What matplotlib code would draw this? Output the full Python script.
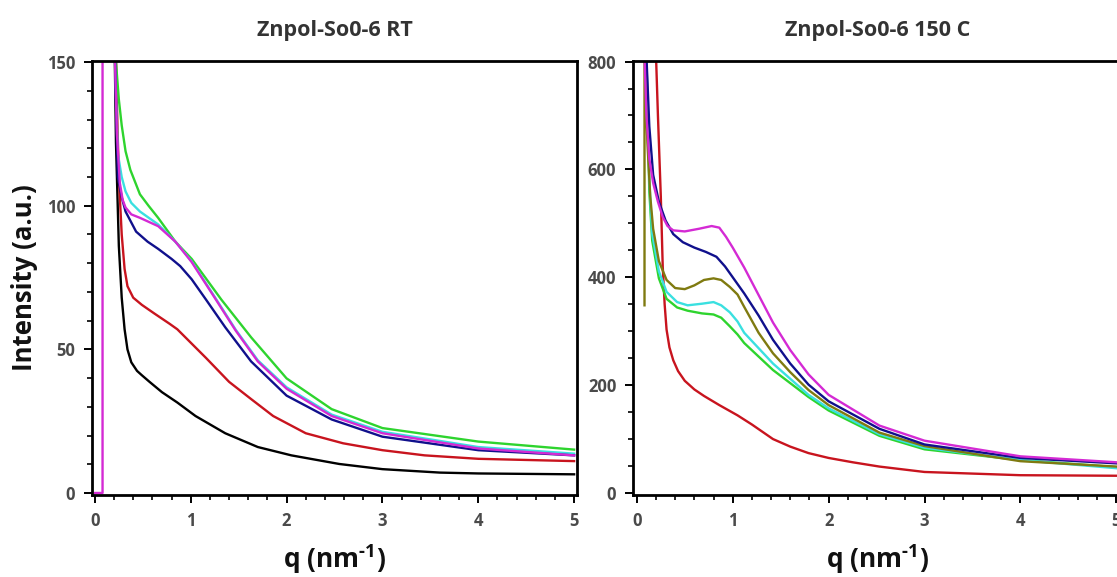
import matplotlib
matplotlib.use("Agg")
import matplotlib.pyplot as plt
from matplotlib.ticker import MultipleLocator

plt.rcParams['font.family'] = ['Open Sans', 'DejaVu Sans']
plt.rcParams['font.weight'] = 'bold'
plt.rcParams['mathtext.fontset'] = 'custom'
plt.rcParams['mathtext.rm'] = 'Open Sans:bold'
plt.rcParams['mathtext.bf'] = 'Open Sans:bold'
plt.rcParams['mathtext.it'] = 'Open Sans:bold'

# ---- RT data (q in nm^-1, intensity a.u.) ----
rt_black_q = [0.20, 0.22, 0.25, 0.28, 0.31, 0.34, 0.38, 0.44, 0.49, 0.57, 0.70, 0.86, 1.05, 1.36, 1.70, 2.05, 2.55, 3.0, 3.6, 4.0, 5.0]
rt_black_i = [170, 122, 86, 68, 57, 50, 45.5, 42.5, 41, 38.7, 35.1, 31.5, 26.8, 20.8, 16, 13.1, 10.1, 8.3, 7.1, 6.8, 6.5]

rt_red_q = [0.21, 0.23, 0.25, 0.28, 0.31, 0.34, 0.40, 0.49, 0.62, 0.78, 0.86, 0.95, 1.16, 1.40, 1.63, 1.86, 2.2, 2.59, 3.0, 3.44, 4.0, 5.0]
rt_red_i = [170, 135, 110, 90, 78, 72, 68, 65.5, 62.5, 58.9, 57, 54, 47, 38.7, 32.7, 26.8, 20.8, 17.3, 14.9, 13.1, 11.9, 11.1]

rt_blue_q = [0.20, 0.22, 0.24, 0.28, 0.32, 0.43, 0.55, 0.66, 0.80, 0.89, 1.01, 1.16, 1.36, 1.63, 2.0, 2.47, 3.0, 4.0, 5.0]
rt_blue_i = [170, 135, 110, 103, 98, 91, 87.5, 85, 81.5, 79, 74.4, 67.3, 57.7, 45.8, 33.9, 25.6, 19.6, 14.9, 13.1]

rt_magenta_q = [0.0, 0.08, 0.08, 0.20, 0.21, 0.23, 0.26, 0.29, 0.32, 0.38, 0.47, 0.66, 0.84, 1.01, 1.24, 1.47, 1.70, 2.0, 2.47, 3.0, 4.0, 5.0]
rt_magenta_i = [0, 0, 400, 400, 150, 125, 108, 102, 99.4, 97, 95.8, 92.9, 87.5, 80.4, 68.5, 56.5, 45.8, 36.3, 26.8, 20.8, 15.5, 13.1]

rt_cyan_q = [0.20, 0.21, 0.24, 0.28, 0.32, 0.38, 0.47, 0.66, 0.84, 1.01, 1.24, 1.47, 1.70, 2.0, 2.47, 3.0, 4.0, 5.0]
rt_cyan_i = [170, 150, 118, 110, 105, 101, 98, 93.5, 87.5, 80.6, 68.8, 56.8, 46.2, 36.8, 27.3, 21.3, 16.0, 13.7]

rt_green_q = [0.21, 0.22, 0.25, 0.28, 0.32, 0.37, 0.47, 0.56, 0.66, 0.84, 1.01, 1.32, 1.63, 2.0, 2.47, 3.0, 4.0, 5.0]
rt_green_i = [170, 150, 137, 128, 119, 112.5, 104, 100, 95.8, 87.5, 81.5, 67.3, 54.2, 39.9, 29.2, 22.6, 17.9, 15.1]

# ---- 150 C data ----
ht_red_q = [0.20, 0.22, 0.25, 0.27, 0.29, 0.31, 0.34, 0.38, 0.43, 0.50, 0.60, 0.70, 0.86, 1.05, 1.20, 1.42, 1.60, 1.79, 2.0, 2.25, 2.53, 3.0, 3.5, 4.0, 5.0]
ht_red_i = [810, 700, 550, 420, 350, 303, 270, 246, 226, 208, 192, 180, 163, 144, 127, 100, 86, 74, 65, 57, 49, 39, 36, 33, 32]

ht_magenta_q = [0.08, 0.10, 0.13, 0.17, 0.22, 0.27, 0.32, 0.38, 0.50, 0.65, 0.78, 0.86, 0.93, 1.00, 1.12, 1.27, 1.42, 1.60, 1.79, 2.0, 2.53, 3.0, 4.0, 5.0]
ht_magenta_i = [810, 700, 620, 575, 540, 512, 495, 487, 485, 490, 495, 492, 475, 455, 418, 367, 316, 265, 220, 182, 125, 97, 68, 57]

ht_navy_q = [0.10, 0.13, 0.17, 0.23, 0.30, 0.38, 0.48, 0.60, 0.72, 0.83, 0.92, 1.00, 1.12, 1.27, 1.42, 1.60, 1.79, 2.0, 2.53, 3.0, 4.0, 5.0]
ht_navy_i = [810, 680, 590, 540, 505, 480, 465, 455, 447, 438, 420, 400, 370, 329, 284, 240, 201, 170, 119, 90, 65, 55]

ht_olive_q = [0.08, 0.08, 0.11, 0.14, 0.17, 0.23, 0.31, 0.40, 0.50, 0.60, 0.70, 0.80, 0.88, 0.97, 1.05, 1.12, 1.27, 1.42, 1.60, 1.79, 2.0, 2.53, 3.0, 4.0, 5.0]
ht_olive_i = [348, 810, 650, 550, 490, 430, 395, 380, 378, 385, 395, 398, 395, 382, 368, 345, 297, 259, 224, 191, 163, 112, 87, 59, 49]

ht_cyan_q = [0.10, 0.13, 0.16, 0.23, 0.31, 0.42, 0.53, 0.68, 0.80, 0.88, 0.97, 1.05, 1.12, 1.42, 1.79, 2.0, 2.53, 3.0, 4.0, 5.0]
ht_cyan_i = [810, 580, 481, 411, 373, 354, 348, 351, 354, 348, 335, 318, 297, 240, 182, 157, 109, 84, 61, 46]

ht_green_q = [0.10, 0.13, 0.16, 0.23, 0.31, 0.42, 0.53, 0.68, 0.80, 0.88, 0.97, 1.05, 1.12, 1.42, 1.79, 2.0, 2.53, 3.0, 4.0, 5.0]
ht_green_i = [810, 560, 468, 398, 360, 344, 338, 333, 331, 325, 309, 294, 278, 228, 178, 153, 106, 81, 61, 48]

BLACK = "#000000"
RED = "#c8141e"
NAVY = "#10108c"
MAGENTA = "#d42ad4"
CYAN = "#3ae0e0"
GREEN = "#2ed42e"
OLIVE = "#7f7a10"

fig = plt.figure(figsize=(11.17, 5.77), dpi=100)
ax1 = fig.add_axes([92 / 1117, 82 / 577, 485 / 1117, 434 / 577])
ax2 = fig.add_axes([633 / 1117, 82 / 577, 490 / 1117, 434 / 577])

lw = 1.7
ax1.plot(rt_black_q, rt_black_i, color=BLACK, lw=lw)
ax1.plot(rt_red_q, rt_red_i, color=RED, lw=lw)
ax1.plot(rt_green_q, rt_green_i, color=GREEN, lw=lw)
ax1.plot(rt_cyan_q, rt_cyan_i, color=CYAN, lw=lw)
ax1.plot(rt_blue_q, rt_blue_i, color=NAVY, lw=lw)
ax1.plot(rt_magenta_q, rt_magenta_i, color=MAGENTA, lw=lw)

ax2.plot(ht_red_q, ht_red_i, color=RED, lw=lw)
ax2.plot(ht_green_q, ht_green_i, color=GREEN, lw=lw)
ax2.plot(ht_cyan_q, ht_cyan_i, color=CYAN, lw=lw)
ax2.plot(ht_olive_q, ht_olive_i, color=OLIVE, lw=lw)
ax2.plot(ht_navy_q, ht_navy_i, color=NAVY, lw=lw)
ax2.plot(ht_magenta_q, ht_magenta_i, color=MAGENTA, lw=lw)

ax1.set_xlim(-0.03, 5.03)
ax1.set_ylim(-0.7, 150.4)
ax2.set_xlim(-0.04, 5.07)
ax2.set_ylim(-3.7, 801)

ax1.yaxis.set_major_locator(MultipleLocator(50))
ax1.yaxis.set_minor_locator(MultipleLocator(10))
ax2.yaxis.set_major_locator(MultipleLocator(200))
ax2.yaxis.set_minor_locator(MultipleLocator(50))

for ax in (ax1, ax2):
    ax.xaxis.set_major_locator(MultipleLocator(1))
    ax.xaxis.set_minor_locator(MultipleLocator(0.2))
    for s in ax.spines.values():
        s.set_linewidth(2.0)
    ax.tick_params(which='major', direction='out', length=6, width=1.4,
                   labelsize=12, labelcolor='#4a4a4a', pad=6)
    ax.tick_params(which='minor', direction='out', length=3.5, width=1.2)
    ax.set_xlabel(r'q (nm$^{\text{-1}}$)', fontsize=19, fontweight='bold',
                  color='#111111', labelpad=9)

ax1.set_ylabel('Intensity (a.u.)', fontsize=18.5, fontweight='bold', color='#111111', labelpad=6)
ax1.set_title('Znpol-So0-6 RT', fontsize=15.5, fontweight='bold', color='#333333', pad=18)
ax2.set_title('Znpol-So0-6 150 C', fontsize=15.5, fontweight='bold', color='#333333', pad=18)

fig.savefig("out.png", dpi=100)
